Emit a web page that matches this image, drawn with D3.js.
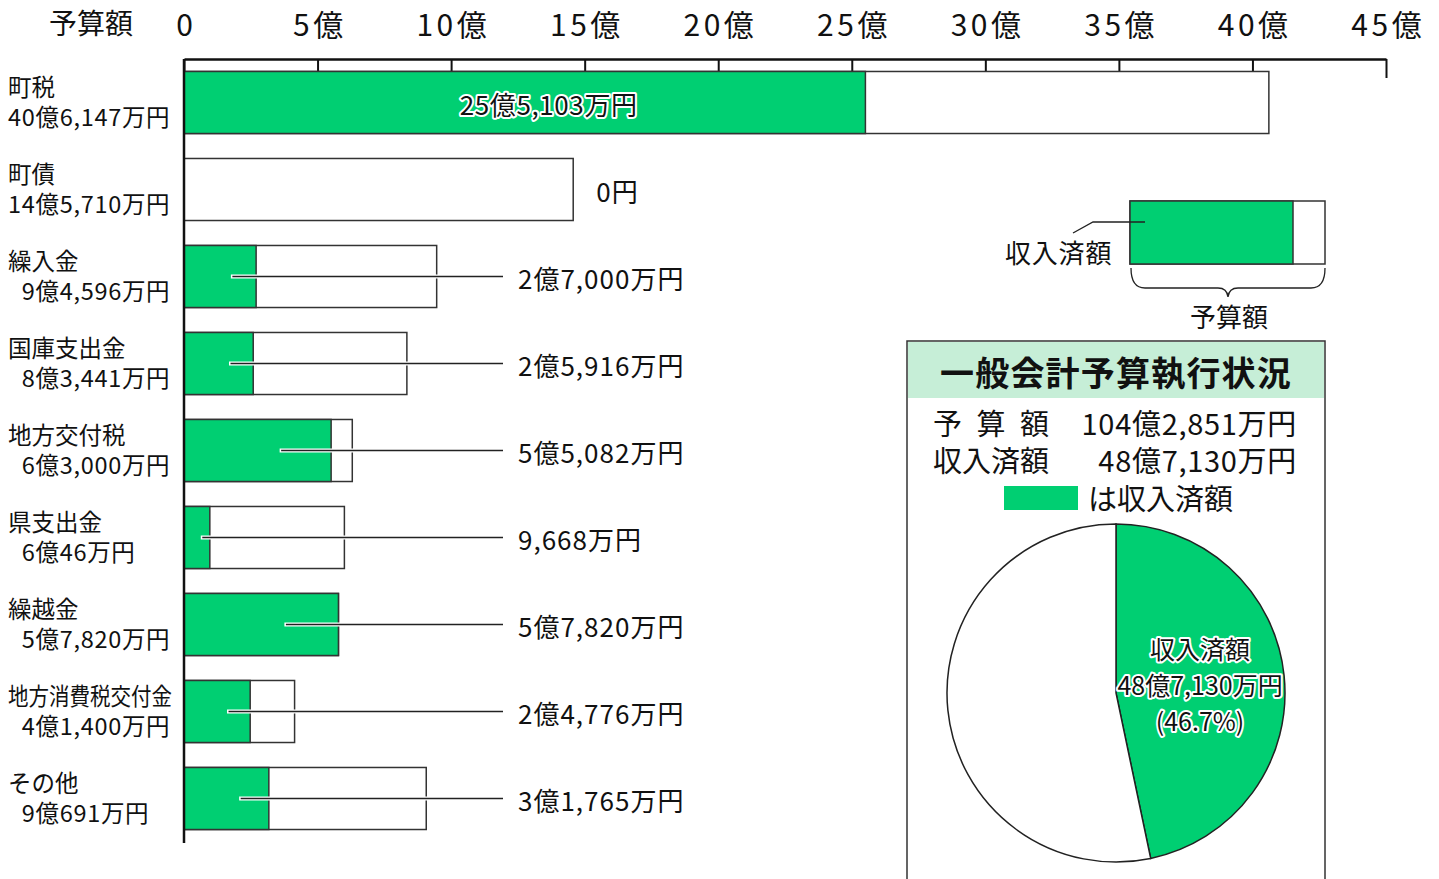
<!DOCTYPE html>
<html lang="ja">
<head>
<meta charset="utf-8">
<script src="https://cdn.jsdelivr.net/npm/d3@7"></script>
<style>
  html, body { margin: 0; padding: 0; background: #fff; }
  svg { display: block; font-family: "Noto Sans CJK JP", "Noto Sans", sans-serif; }
</style>
</head>
<body>
<svg id="chart" width="1439" height="879"></svg>
<script>
// ---- data (values in 万円) ----
const categories = ["町税", "町債", "繰入金", "国庫支出金", "地方交付税", "県支出金", "繰越金", "地方消費税交付金", "その他"];
const budget   = [406147, 145710, 94596, 83441, 63000, 60046, 57820, 41400, 90691];
const received = [255103, 0, 27000, 25916, 55082, 9668, 57820, 24776, 31765];
const tickValues = [0, 5, 10, 15, 20, 25, 30, 35, 40, 45]; // 億
const totalBudget = 1042851;
const totalReceived = 487130;
const pieLabel = ["収入済額", "48億7,130万円", "(46.7%)"];

const GREEN = "#00cf72";
const svg = d3.select("#chart");

function fmt(v) {
  if (v === 0) return "0円";
  const oku = Math.floor(v / 10000), man = v % 10000;
  let s = "";
  if (oku > 0) s += oku + "億";
  if (man > 0) s += d3.format(",")(man) + "万";
  return s + "円";
}

const x = d3.scaleLinear().domain([0, 45]).range([184, 1386]);
const y = d3.scaleBand().domain(categories).range([59, 842]).paddingInner(0.287).paddingOuter(0.1435);

// ---- top axis ----
const axis = d3.axisTop(x).tickValues(tickValues).tickSizeInner(-19).tickSizeOuter(0).tickPadding(23.5)
  .tickFormat(d => d === 0 ? "0" : d + "億");
const ag = svg.append("g").attr("transform", "translate(0,59)").call(axis);
ag.select(".domain").attr("stroke", "#111").attr("stroke-width", 2.5);
ag.selectAll(".tick line").attr("stroke", "#111").attr("stroke-width", 2);
ag.selectAll(".tick text").attr("font-size", 30).attr("fill", "#111").attr("letter-spacing", 3.5)
  .attr("dx", 1.75).attr("font-family", "'Noto Sans CJK JP', sans-serif");
svg.append("text").attr("x", 91).attr("y", 34).attr("text-anchor", "middle")
  .attr("font-size", 28).attr("fill", "#111").text("予算額");

// ---- bars ----
const rows = categories.map((c, i) => ({ c, b: budget[i], r: received[i] }));
const bh = y.bandwidth();

const rg = svg.append("g").selectAll("g").data(rows).join("g");
rg.append("rect")
  .attr("x", x(0)).attr("y", d => y(d.c))
  .attr("width", d => x(d.b / 10000) - x(0)).attr("height", bh)
  .attr("fill", "#fff").attr("stroke", "#333").attr("stroke-width", 1.5);
rg.filter(d => d.r > 0).append("rect")
  .attr("x", x(0)).attr("y", d => y(d.c))
  .attr("width", d => x(d.r / 10000) - x(0)).attr("height", bh)
  .attr("fill", GREEN).attr("stroke", "#333").attr("stroke-width", 1.5);

// category labels (one text, two lines)
const lab = rg.append("text").attr("font-size", 23.5).attr("fill", "#111");
lab.append("tspan").attr("class", "nm").attr("x", 8).attr("y", d => y(d.c) + bh / 2 - 17)
  .attr("dominant-baseline", "central").text(d => d.c);
lab.append("tspan").attr("x", 8).attr("y", d => y(d.c) + bh / 2 + 13)
  .attr("dominant-baseline", "central").attr("letter-spacing", 0.7)
  .text(d => (d.b < 100000 ? "\u2007" : "") + fmt(d.b));
lab.selectAll("tspan.nm").each(function () {
  if (this.getComputedTextLength() > 164) {
    d3.select(this).attr("textLength", 164).attr("lengthAdjust", "spacingAndGlyphs");
  }
});

// value labels
const LABEL_X = 518, LINE_END = 503;
rows.forEach((d, i) => {
  const cy = y(d.c) + bh / 2;
  if (i === 0) {
    svg.append("text").attr("x", (x(0) + x(d.r / 10000)) / 2 + 24).attr("y", cy + 1)
      .attr("text-anchor", "middle").attr("dominant-baseline", "central").attr("letter-spacing", 0.6)
      .attr("font-size", 26).attr("fill", "#111").attr("stroke", "#fff").attr("stroke-width", 4)
      .attr("paint-order", "stroke").attr("stroke-linejoin", "round").text(fmt(d.r));
  } else if (d.r === 0) {
    svg.append("text").attr("x", x(d.b / 10000) + 23).attr("y", cy + 1)
      .attr("dominant-baseline", "central").attr("font-size", 26).attr("letter-spacing", 1)
      .attr("fill", "#111").text(fmt(d.r));
  } else {
    const x0 = x(0) + 0.65 * (x(d.r / 10000) - x(0));
    svg.append("line").attr("x1", x0).attr("x2", LINE_END).attr("y1", cy).attr("y2", cy)
      .attr("stroke", "#fff").attr("stroke-width", 4);
    svg.append("line").attr("x1", x0 + 1.5).attr("x2", LINE_END).attr("y1", cy).attr("y2", cy)
      .attr("stroke", "#222").attr("stroke-width", 1.5);
    svg.append("text").attr("x", LABEL_X).attr("y", cy + 1)
      .attr("dominant-baseline", "central").attr("font-size", 26).attr("letter-spacing", 1)
      .attr("fill", "#111").text(fmt(d.r));
  }
});

// left axis line
svg.append("line").attr("x1", x(0)).attr("x2", x(0)).attr("y1", 59).attr("y2", 843)
  .attr("stroke", "#111").attr("stroke-width", 2.5);

// ---- legend sample ----
const lg = svg.append("g");
lg.append("rect").attr("x", 1130).attr("y", 201).attr("width", 195).attr("height", 63)
  .attr("fill", "#fff").attr("stroke", "#333").attr("stroke-width", 1.5);
lg.append("rect").attr("x", 1130).attr("y", 201).attr("width", 163).attr("height", 63)
  .attr("fill", GREEN).attr("stroke", "#333").attr("stroke-width", 1.5);
lg.append("path").attr("d", "M1073,233 L1093,222 L1145,222").attr("fill", "none")
  .attr("stroke", "#222").attr("stroke-width", 1.3);
lg.append("text").attr("x", 1005).attr("y", 251).attr("dominant-baseline", "central")
  .attr("font-size", 26).attr("letter-spacing", 0.8).attr("fill", "#111").text("収入済額");
lg.append("path")
  .attr("d", "M1131,268 Q1131,288 1145,288 L1218,288 Q1227,288 1228,297 Q1229,288 1238,288 L1311,288 Q1325,288 1325,268")
  .attr("fill", "none").attr("stroke", "#222").attr("stroke-width", 1.3);
lg.append("text").attr("x", 1229).attr("y", 315).attr("text-anchor", "middle").attr("dominant-baseline", "central")
  .attr("font-size", 26).attr("fill", "#111").text("予算額");

// ---- summary box ----
const bx = svg.append("g");
bx.append("rect").attr("x", 907).attr("y", 341).attr("width", 418).attr("height", 600)
  .attr("fill", "#fff").attr("stroke", "#333").attr("stroke-width", 1.5);
bx.append("rect").attr("x", 908).attr("y", 342).attr("width", 416).attr("height", 56).attr("fill", "#c6eed7");
bx.append("text").attr("x", 1116).attr("y", 371).attr("text-anchor", "middle").attr("dominant-baseline", "central")
  .attr("font-size", 34).attr("letter-spacing", 1.2).attr("font-weight", "bold").attr("fill", "#111")
  .text("一般会計予算執行状況");
bx.append("rect").attr("x", 1004).attr("y", 486).attr("width", 74).attr("height", 24).attr("fill", GREEN);
const info = bx.append("text").attr("font-size", 29).attr("fill", "#111");
info.append("tspan").attr("x", 933).attr("y", 422).attr("dominant-baseline", "central").text("予\u2002算\u2002額");
info.append("tspan").attr("x", 1297).attr("y", 422).attr("text-anchor", "end").attr("dominant-baseline", "central")
  .attr("letter-spacing", 0.7).text(fmt(totalBudget));
info.append("tspan").attr("x", 933).attr("y", 459).attr("dominant-baseline", "central").text("収入済額");
info.append("tspan").attr("x", 1297).attr("y", 459).attr("text-anchor", "end").attr("dominant-baseline", "central")
  .attr("letter-spacing", 0.7).text(fmt(totalReceived));
info.append("tspan").attr("x", 1088).attr("y", 497).attr("dominant-baseline", "central").text("は収入済額");

// ---- pie ----
const R = 169;
const pg = svg.append("g").attr("transform", "translate(1116,693)");
const pie = d3.pie().sort(null).value(d => d)([totalReceived, totalBudget - totalReceived]);
const arc = d3.arc().innerRadius(0).outerRadius(R);
pg.selectAll("path").data(pie).join("path").attr("d", arc)
  .attr("fill", (d, i) => i === 0 ? GREEN : "#fff").attr("stroke", "#222").attr("stroke-width", 1.5);
const c = arc.centroid(pie[0]);
const pt = pg.append("text").attr("text-anchor", "middle")
  .attr("font-size", 25).attr("fill", "#111").attr("stroke", "#fff").attr("stroke-width", 4)
  .attr("paint-order", "stroke").attr("stroke-linejoin", "round");
pt.selectAll("tspan").data(pieLabel).join("tspan")
  .attr("x", c[0]).attr("y", (d, i) => c[1] + (i - 1) * 36)
  .attr("dominant-baseline", "central").text(d => d);
</script>
</body>
</html>
